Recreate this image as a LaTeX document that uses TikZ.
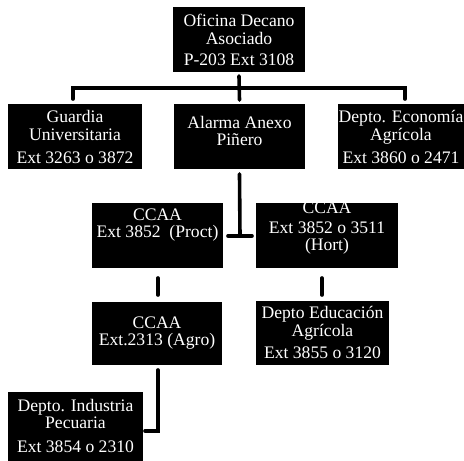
\documentclass[tikz,border=0pt]{standalone}
\usepackage{fontspec}
\setmainfont{Liberation Serif}
\begin{document}
\begin{tikzpicture}[x=1pt,y=-1pt,
  box/.style={draw=none,fill=black,inner sep=0pt,outer sep=0pt},
  txt/.style={text=white,align=center,inner sep=0pt,font=\fontsize{17.6}{17.5}\selectfont},
  conn/.style={draw=black,line width=3.6pt,line cap=round}]
\useasboundingbox (0,0) rectangle (464,461);
% boxes
\node[box,minimum width=132pt,minimum height=65pt] (top) at (239,39.5) {};
\node[box,minimum width=134pt,minimum height=65pt] (guard) at (75,136.5) {};
\node[box,minimum width=131pt,minimum height=65pt] (alarm) at (239.5,136.5) {};
\node[box,minimum width=134pt,minimum height=65pt] (econ) at (405,136.5) {};
\node[box,minimum width=131pt,minimum height=65pt] (proct) at (157.5,235.5) {};
\node[box,minimum width=142pt,minimum height=65pt] (hort) at (327,235.5) {};
\node[box,minimum width=130pt,minimum height=63pt] (agro) at (157,333.5) {};
\node[box,minimum width=133pt,minimum height=64pt] (educ) at (322.5,333) {};
\node[box,minimum width=135pt,minimum height=72pt] (indus) at (75.5,428) {};
% texts
\node[txt] (topT) at (239,40) {Oficina Decano\\Asociado\\[4pt]P-203 Ext 3108};
\node[txt] (guardT) at (75,137) {Guardia\\Universitaria\\[6pt]Ext 3263 o 3872};
\node[txt] (alarmT) at (239.5,131) {Alarma Anexo\\Piñero};
\node[txt] (econT) at (401,137) {Depto. Economía\\Agrícola\\[6pt]Ext 3860 o 2471};
\node[txt] (proctT) at (157.5,225) {CCAA\\Ext 3852\ \ (Proct)};
\node[txt] (hortT) at (327,228) {CCAA\\[2.5pt]Ext 3852 o 3511\\(Hort)};
\node[txt] (agroT) at (157,333) {CCAA\\Ext.2313 (Agro)};
\node[txt] (educT) at (322.5,332.5) {Depto Educación\\Agrícola\\[5pt]Ext 3855 o 3120};
\node[txt] (indusT) at (75.5,425.5) {Depto. Industria\\Pecuaria\\[6pt]Ext 3854 o 2310};
% connector coordinates
\coordinate (busL) at (73,88);
\coordinate (busR) at (405,88);
\coordinate (dropL) at (73,99);
\coordinate (dropR) at (405,99);
\coordinate (tee) at (240,236);
\coordinate (pdA) at (158,278);
\coordinate (pdB) at (158,295);
\coordinate (hdA) at (322,278);
\coordinate (hdB) at (322,295);
\coordinate (adA) at (158,370);
\coordinate (elbow) at (158,431);
% connectors
\draw[conn] ([yshift=-4pt]top.south) -- ([yshift=4pt]alarm.north);
\draw[conn] (dropL) -- (busL) -- (busR) -- (dropR);
\draw[conn] ([yshift=-5pt]alarm.south) -- (tee);
\draw[conn] ([xshift=5pt]proct.east |- tee) -- ([xshift=-4pt]hort.west |- tee);
\draw[conn] (pdA) -- (pdB);
\draw[conn] (hdA) -- (hdB);
\draw[conn] (adA) -- (elbow) -- ([xshift=2pt]indus.east |- elbow);
\end{tikzpicture}
\end{document}
